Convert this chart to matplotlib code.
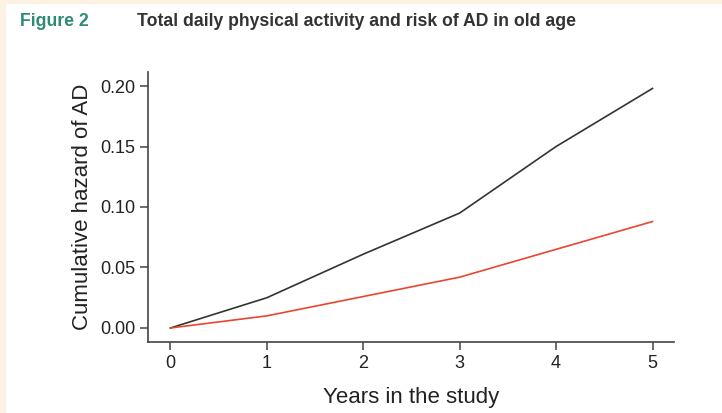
import matplotlib
matplotlib.use("Agg")
import matplotlib.pyplot as plt
from matplotlib.patches import Rectangle

years = [0, 1, 2, 3, 4, 5]
low_activity = [0.0, 0.025, 0.061, 0.095, 0.150, 0.198]
high_activity = [0.0, 0.010, 0.026, 0.042, 0.065, 0.088]
x_ticks = [0, 1, 2, 3, 4, 5]
y_ticks = [0.00, 0.05, 0.10, 0.15, 0.20]
y_tick_labels = ["0.00", "0.05", "0.10", "0.15", "0.20"]

plt.rcParams['font.family'] = ['Liberation Sans', 'DejaVu Sans']

fig = plt.figure(figsize=(7.22, 4.13), dpi=100)
fig.patch.set_facecolor("white")
cream = "#fdf3e2"
fig.patches.append(Rectangle((0, 0), 5/722, 1, transform=fig.transFigure, color=cream, zorder=0))
fig.patches.append(Rectangle((0, 1-3/413), 1, 3/413, transform=fig.transFigure, color=cream, zorder=0))

ax = fig.add_axes([148/722, 1-342/413, (674-148)/722, (342-72)/413])
ax.plot(years, low_activity, color="#333333", lw=1.2)
ax.plot(years, high_activity, color="#e8472e", lw=1.2)

ax.set_xlim(-0.233, 5.223)
ax.set_ylim(-0.0116, 0.2116)
ax.set_xticks(x_ticks)
ax.set_yticks(y_ticks)
ax.set_yticklabels(y_tick_labels)
for s in ["top", "right"]:
    ax.spines[s].set_visible(False)
for s in ["left", "bottom"]:
    ax.spines[s].set_color("#444444")
    ax.spines[s].set_linewidth(1.2)
ax.tick_params(axis="both", direction="out", length=6, width=1.1, color="#444444",
               labelsize=13, labelcolor="#222222", pad=3)
ax.set_xlabel("Years in the study", fontsize=16, color="#222222", labelpad=11)
ax.set_ylabel("Cumulative hazard of AD", fontsize=16, color="#222222", labelpad=5)

fig.text(20/722, 1-21/413, "Figure 2", fontsize=12.7, fontweight="bold", color="#2e8a78",
         va="center", ha="left")
fig.text(137/722, 1-21/413, "Total daily physical activity and risk of AD in old age", fontsize=12.7,
         fontweight="bold", color="#333333", va="center", ha="left")

fig.savefig("out.png", dpi=100, facecolor=fig.get_facecolor())
